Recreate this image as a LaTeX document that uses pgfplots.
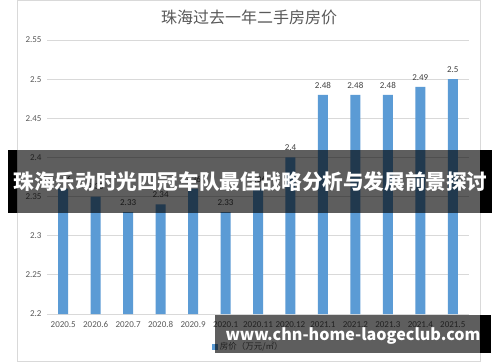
\documentclass[border=0pt]{standalone}
\usepackage{fontspec}
\usepackage{pgfplots}
\pgfplotsset{compat=1.18}
\newfontfamily\cjk{Noto Sans CJK SC}
\newfontfamily\carl{Carlito}
\definecolor{barblue}{HTML}{5B9BD5}
\definecolor{txtgray}{HTML}{595959}
\definecolor{lblgray}{HTML}{404040}
\definecolor{gridgray}{HTML}{D9D9D9}
\begin{document}
\begin{tikzpicture}[x=1pt,y=1pt]
\path[use as bounding box] (0,0) rectangle (500,362);
\fill[white] (0,0) rectangle (500,362);
\draw[gridgray, line width=0.75pt] (17,1) rectangle (480,361.5);
\node[font=\cjk\fontsize{16}{18}\selectfont, text=txtgray] at (249,345) {珠海过去一年二手房房价};
\begin{axis}[
  at={(47pt,48pt)}, anchor=south west,
  scale only axis, width=422pt, height=274pt,
  xmin=0, xmax=13, ymin=2.2, ymax=2.55,
  axis line style={draw=none},
  major tick length=0pt,
  ymajorgrids, grid style={gridgray, line width=0.75pt},
  ytick={2.2,2.25,2.3,2.35,2.4,2.45,2.5,2.55},
  yticklabels={2.2,2.25,2.3,2.35,2.4,2.45,2.5,2.55},
  xtick={0.5,1.5,2.5,3.5,4.5,5.5,6.5,7.5,8.5,9.5,10.5,11.5,12.5},
  xticklabels={2020.5,2020.6,2020.7,2020.8,2020.9,2020.1,2020.11,2020.12,2021.1,2021.2,2021.3,2021.4,2021.5},
  ticklabel style={font=\carl\fontsize{9}{10}\selectfont, text=txtgray},
  yticklabel style={xshift=-2pt},
  xticklabel style={yshift=-4pt},
  /pgf/number format/assume math mode=true,
  ybar, bar width=10pt,
  nodes near coords,
  nodes near coords style={font=\carl\fontsize{9}{10}\selectfont, text=lblgray, yshift=3pt},
  legend style={at={(0.4775,-0.12)}, anchor=center, draw=none, fill=none,
    font=\cjk\fontsize{8.5}{10}\selectfont, text=txtgray},
  legend image code/.code={\fill[barblue] (0pt,-2.7pt) rectangle (5.4pt,2.7pt);},
]
\addplot[fill=barblue, draw=none] coordinates {
  (0.5,2.36) (1.5,2.35) (2.5,2.33) (3.5,2.34) (4.5,2.36) (5.5,2.33) (6.5,2.36)
  (7.5,2.40) (8.5,2.48) (9.5,2.48) (10.5,2.48) (11.5,2.49) (12.5,2.50)};
\addlegendentry{房价（万元/㎡）}
\end{axis}
% banner
\fill[black] (8,149) rectangle (17,212);
\fill[black] (480,149) rectangle (492,212);
\fill[black, fill opacity=0.63] (17,149) rectangle (480,212);
\node[text=white, font=\cjk\bfseries\fontsize{20.6}{22}\selectfont, inner sep=0pt] at (250.5,180) {珠海乐动时光四冠车队最佳战略分析与发展前景探讨};
% watermark
\fill[black] (480,9) rectangle (491,47);
\fill[black, fill opacity=0.63] (215,9) rectangle (480,47);
\node[text=white, font=\cjk\bfseries\fontsize{16.1}{18}\selectfont, inner sep=0pt] at (353,26) {www.chn-home-laogeclub.com};
\end{tikzpicture}
\end{document}
